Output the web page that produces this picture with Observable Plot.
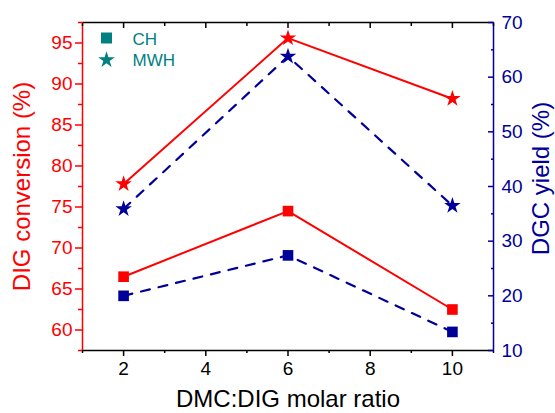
<!DOCTYPE html>
<html><head><meta charset="utf-8">
<script src="https://cdn.jsdelivr.net/npm/d3@7"></script>
<script src="https://cdn.jsdelivr.net/npm/@observablehq/plot@0.6"></script>
<style>body{margin:0;background:#fff}#chart{width:555px;height:413px}</style>
</head><body><div id="chart"></div>
<script>
// ---- data ----
const ratios = [2, 6, 10];
const convCH = [66.5, 74.5, 62.5];      // DIG conversion (%), CH
const convMWH = [77.8, 95.6, 88.2];     // DIG conversion (%), MWH
const yieldCH = [20.0, 27.4, 13.4];     // DGC yield (%), CH
const yieldMWH = [35.9, 63.8, 36.5];    // DGC yield (%), MWH
const xTicks = [2, 4, 6, 8, 10];
const xMinor = [1, 3, 5, 7, 9, 11];
const leftTicks = [60, 65, 70, 75, 80, 85, 90, 95];
const leftMinor = [57.5, 62.5, 67.5, 72.5, 77.5, 82.5, 87.5, 92.5, 97.5];
const rightTicks = [10, 20, 30, 40, 50, 60, 70];
const rightMinor = [15, 25, 35, 45, 55, 65];
const legendLabels = ["CH", "MWH"];
const legendSymbols = ["square", "star"];
const xDomain = [1, 11];
const leftDomain = [57.5, 97.5];
const rightDomain = [10, 70];

const RED = "#ff0000", BLUE = "#000099", TEAL = "#008080";
const FONT = "'Liberation Sans', Arial, sans-serif";

const toLeft = v => leftDomain[0] + (v - rightDomain[0]) * (leftDomain[1] - leftDomain[0]) / (rightDomain[1] - rightDomain[0]);
const fromLeft = v => rightDomain[0] + (v - leftDomain[0]) * (rightDomain[1] - rightDomain[0]) / (leftDomain[1] - leftDomain[0]);

const rows = (ys) => ratios.map((x, i) => ({x, y: ys[i]}));
const rowsR = (ys) => ratios.map((x, i) => ({x, y: toLeft(ys[i])}));

const chart = Plot.plot({
  width: 555, height: 413,
  marginLeft: 82, marginRight: 62, marginTop: 22, marginBottom: 63,
  style: {fontFamily: FONT, background: "#fff"},
  x: {domain: xDomain},
  y: {domain: leftDomain},
  marks: [
    // frame
    Plot.ruleY([leftDomain[1]], {stroke: "black", strokeWidth: 1.5}),
    Plot.ruleY([leftDomain[0]], {stroke: "black", strokeWidth: 1.5}),
    Plot.ruleX([xDomain[0]], {stroke: RED, strokeWidth: 1.5}),
    Plot.ruleX([xDomain[1]], {stroke: BLUE, strokeWidth: 1.5}),
    // bottom axis
    Plot.axisX(xTicks, {anchor: "bottom", tickSize: 6, tickPadding: 5, fontSize: 19, label: null, color: "black", strokeWidth: 1.5}),
    Plot.axisX(xMinor, {anchor: "bottom", tickSize: 3, tickFormat: () => "", label: null, color: "black", strokeWidth: 1.5}),
    // top axis (inward ticks)
    Plot.axisX(xTicks, {anchor: "top", tickSize: 5, dy: 5, tickFormat: () => "", label: null, color: "black", strokeWidth: 1.5}),
    Plot.axisX(xMinor, {anchor: "top", tickSize: 3, dy: 3, tickFormat: () => "", label: null, color: "black", strokeWidth: 1.5}),
    // left axis
    Plot.axisY(leftTicks, {anchor: "left", tickSize: 7, tickPadding: 3, fontSize: 19, label: null, color: RED, strokeWidth: 1.5}),
    Plot.axisY(leftMinor, {anchor: "left", tickSize: 4, tickFormat: () => "", label: null, color: RED, strokeWidth: 1.5}),
    // right axis (inward ticks, outside labels)
    Plot.axisY(rightTicks.map(toLeft), {anchor: "right", tickSize: 6, dx: -6, tickFormat: () => "", label: null, color: BLUE, strokeWidth: 1.5}),
    Plot.axisY(rightMinor.map(toLeft), {anchor: "right", tickSize: 3, dx: -3, tickFormat: () => "", label: null, color: BLUE, strokeWidth: 1.5}),
    Plot.axisY(rightTicks.map(toLeft), {anchor: "right", tickSize: 0, tickPadding: 8, fontSize: 19, label: null, color: BLUE, tickFormat: d => String(Math.round(fromLeft(d)))}),
    // axis titles
    Plot.text(["DIG conversion (%)"], {frameAnchor: "left", dx: -60, rotate: -90, fontSize: 24, fill: RED, textAnchor: "middle", lineAnchor: "middle"}),
    Plot.text(["DGC yield (%)"], {frameAnchor: "right", dx: 48, dy: -8, rotate: -90, fontSize: 24, fill: BLUE, textAnchor: "middle", lineAnchor: "middle"}),
    Plot.text(["DMC:DIG molar ratio"], {frameAnchor: "bottom", dy: 49, fontSize: 24, fill: "black", textAnchor: "middle", lineAnchor: "middle"}),
    // lines
    Plot.line(rows(convCH), {x: "x", y: "y", stroke: RED, strokeWidth: 2}),
    Plot.line(rows(convMWH), {x: "x", y: "y", stroke: RED, strokeWidth: 2}),
    Plot.line(rowsR(yieldCH), {x: "x", y: "y", stroke: BLUE, strokeWidth: 2.2, strokeDasharray: "9,9"}),
    Plot.line(rowsR(yieldMWH), {x: "x", y: "y", stroke: BLUE, strokeWidth: 2.2, strokeDasharray: "9,9"}),
    // markers
    Plot.dot(rows(convCH), {x: "x", y: "y", symbol: "square", r: 6, fill: RED}),
    Plot.dot(rows(convMWH), {x: "x", y: "y", symbol: "star", r: 5.2, fill: RED}),
    Plot.dot(rowsR(yieldCH), {x: "x", y: "y", symbol: "square", r: 6, fill: BLUE}),
    Plot.dot(rowsR(yieldMWH), {x: "x", y: "y", symbol: "star", r: 5.2, fill: BLUE}),
    // legend
    Plot.dot([legendLabels[0]], {frameAnchor: "top-left", dx: 24, dy: 15.5, symbol: legendSymbols[0], r: 6.2, fill: TEAL}),
    Plot.dot([legendLabels[1]], {frameAnchor: "top-left", dx: 24, dy: 37.5, symbol: legendSymbols[1], r: 5.2, fill: TEAL}),
    Plot.text([legendLabels[0]], {frameAnchor: "top-left", dx: 50, dy: 17, text: d => d, fontSize: 17, fill: TEAL, textAnchor: "start", lineAnchor: "middle"}),
    Plot.text([legendLabels[1]], {frameAnchor: "top-left", dx: 50, dy: 38, text: d => d, fontSize: 17, fill: TEAL, textAnchor: "start", lineAnchor: "middle"})
  ]
});
document.getElementById("chart").appendChild(chart);
</script></body></html>
